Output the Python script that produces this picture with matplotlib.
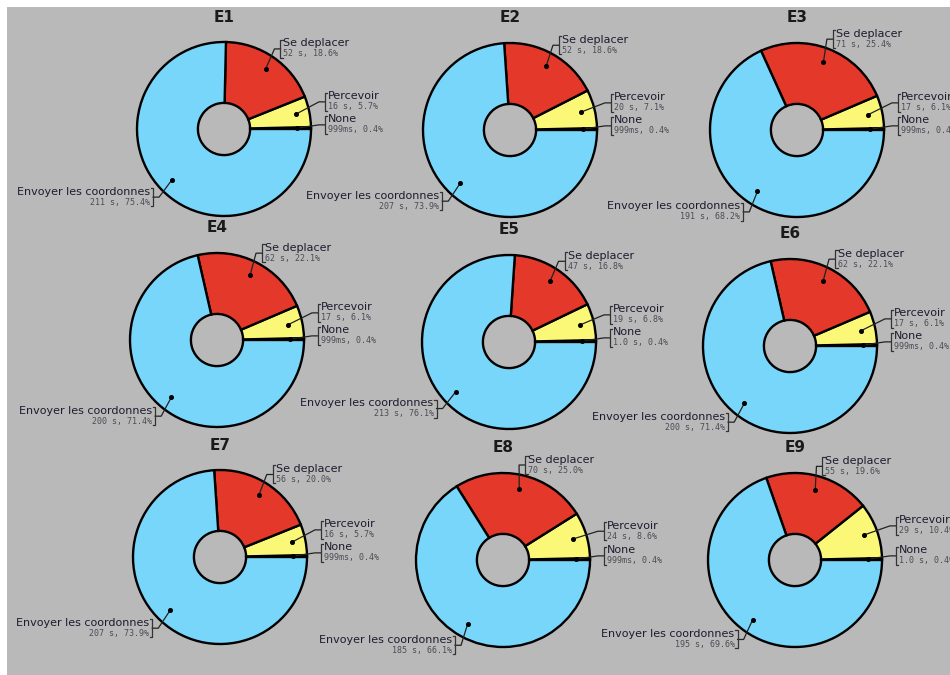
import matplotlib
matplotlib.use("Agg")
import matplotlib.pyplot as plt
import numpy as np
from matplotlib.patches import Rectangle

# ---------------- data ----------------
titles = ["E1", "E2", "E3", "E4", "E5", "E6", "E7", "E8", "E9"]
categories = ["None", "Percevoir", "Se deplacer", "Envoyer les coordonnes"]
none_s = [0.999, 0.999, 0.999, 0.999, 1.0, 0.999, 0.999, 0.999, 1.0]
percevoir_s = [16, 20, 17, 17, 19, 17, 16, 24, 29]
deplacer_s = [52, 52, 71, 62, 47, 62, 56, 70, 55]
envoyer_s = [211, 207, 191, 200, 213, 200, 207, 185, 195]

none_txt = ["999ms, 0.4%", "999ms, 0.4%", "999ms, 0.4%", "999ms, 0.4%", "1.0 s, 0.4%",
            "999ms, 0.4%", "999ms, 0.4%", "999ms, 0.4%", "1.0 s, 0.4%"]
percevoir_txt = ["16 s, 5.7%", "20 s, 7.1%", "17 s, 6.1%", "17 s, 6.1%", "19 s, 6.8%",
                 "17 s, 6.1%", "16 s, 5.7%", "24 s, 8.6%", "29 s, 10.4%"]
deplacer_txt = ["52 s, 18.6%", "52 s, 18.6%", "71 s, 25.4%", "62 s, 22.1%", "47 s, 16.8%",
                "62 s, 22.1%", "56 s, 20.0%", "70 s, 25.0%", "55 s, 19.6%"]
envoyer_txt = ["211 s, 75.4%", "207 s, 73.9%", "191 s, 68.2%", "200 s, 71.4%", "213 s, 76.1%",
               "200 s, 71.4%", "207 s, 73.9%", "185 s, 66.1%", "195 s, 69.6%"]

colors = ["#111111", "#fbf878", "#e3382a", "#78d6fa"]

# ---------------- layout (pixel positions) ----------------
W, H = 950, 675
centers_px = [(224, 129), (510, 130), (797, 130),
              (217, 340), (509, 342), (790, 346),
              (220, 557), (503, 560), (795, 560)]
R = 87
GRAY = "#b9b9b9"

fig = plt.figure(figsize=(9.5, 6.75), dpi=100)
fig.patch.set_facecolor("white")
ax = fig.add_axes([0, 0, 1, 1])
ax.add_patch(Rectangle((7, 0), W - 7, H - 7, facecolor=GRAY, edgecolor="none", zorder=0))

for i in range(9):
    cxp, cyp = centers_px[i]
    cx, cy = cxp, H - cyp
    vals = [none_s[i], percevoir_s[i], deplacer_s[i], envoyer_s[i]]
    txts = [none_txt[i], percevoir_txt[i], deplacer_txt[i], envoyer_txt[i]]
    wedges, _ = ax.pie(vals, colors=colors, startangle=0, counterclock=True,
                       center=(cx, cy), radius=R,
                       wedgeprops=dict(width=0.7 * R, edgecolor="black", linewidth=1.7))
    for w in wedges:
        w.set_zorder(2)
    ax.text(cx, cy + R + 25, titles[i], ha="center", va="center",
            fontsize=11, fontweight="bold", color="#1a1a1a", zorder=5)

    anchors = []
    for k, w in enumerate(wedges):
        mid = np.deg2rad((w.theta1 + w.theta2) / 2)
        dx, dy = np.cos(mid), np.sin(mid)
        if k in (0, 1):
            axx = cx + 1.16 * R
            ayy = cy + 1.15 * R * dy + (3 if k == 0 else 0)
            if k == 1:
                ayy = max(ayy, anchors[0][1] + 23)
        else:
            axx = cx + 1.14 * R * dx
            ayy = cy + 1.12 * R * dy
        anchors.append((axx, ayy))
        side = 1 if dx > 0 else -1
        px, py = cx + 0.84 * R * dx, cy + 0.84 * R * dy
        # leader line
        ax.plot([px, axx - side * 6, axx], [py, ayy, ayy], color="#222222", lw=0.9, zorder=4)
        ax.plot([px], [py], marker="o", ms=2.6, color="black", zorder=4)
        # bracket
        ax.plot([axx + side * 2.5, axx, axx, axx + side * 2.5],
                [ayy + 9, ayy + 9, ayy - 9, ayy - 9], color="#333333", lw=0.9, zorder=4)
        ha = "left" if side > 0 else "right"
        ax.text(axx + side * 3, ayy + 0.5, categories[k], ha=ha, va="bottom",
                fontsize=8, color="#1c1c30", zorder=5)
        ax.text(axx + side * 3, ayy - 0.5, txts[k], ha=ha, va="top",
                fontsize=6, family="DejaVu Sans Mono", color="#4c4c55", zorder=5)

ax.set_xlim(0, W)
ax.set_ylim(0, H)
ax.set_aspect("equal")
ax.axis("off")
fig.savefig("out.png", dpi=100, facecolor="white")
